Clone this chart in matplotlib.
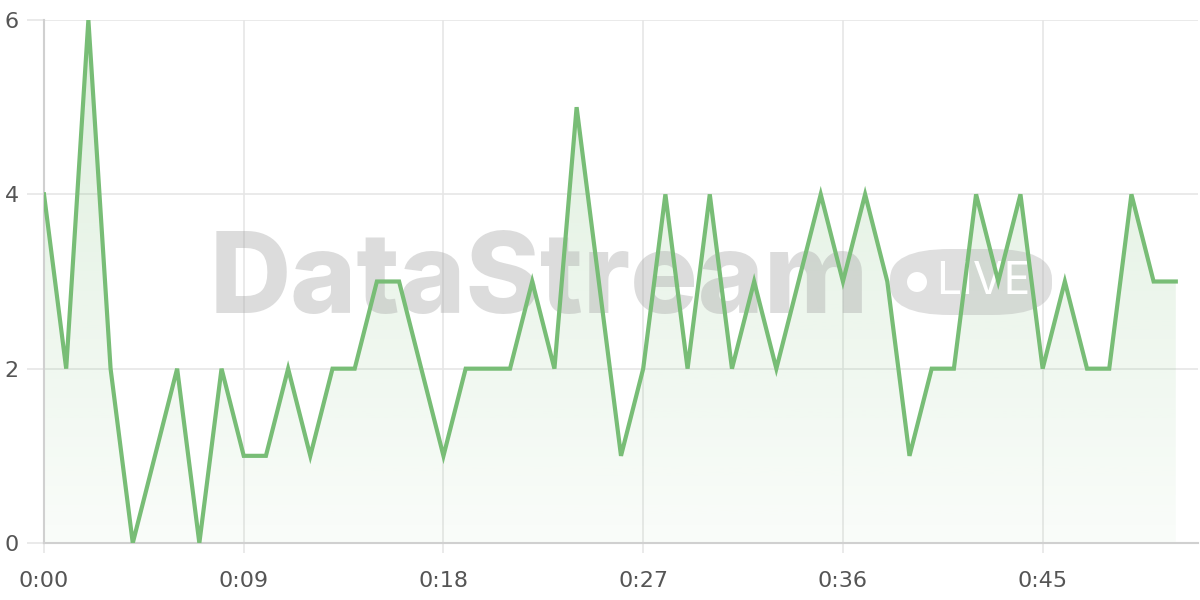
import numpy as np
import matplotlib
matplotlib.use("Agg")
import matplotlib.pyplot as plt
from matplotlib.patches import FancyBboxPatch, Circle

# seconds since start and value at each second
seconds = list(range(52))
values = [4, 2, 6, 2, 0, 1, 2, 0, 2, 1, 1, 2, 1, 2, 2, 3, 3, 2, 1, 2,
          2, 2, 3, 2, 5, 3, 1, 2, 4, 2, 4, 2, 3, 2, 3, 4, 3, 4, 3, 1,
          2, 2, 4, 3, 4, 2, 3, 2, 2, 4, 3, 3]
x_ticks = [0, 9, 18, 27, 36, 45]
x_labels = ["0:00", "0:09", "0:18", "0:27", "0:36", "0:45"]
y_ticks = [0, 2, 4, 6]

line_color = "#78bd76"
grid_color = "#e6e6e6"

fig = plt.figure(figsize=(12, 6), dpi=100)
ax = fig.add_axes([44 / 1200, 57 / 600, 1154 / 1200, 523 / 600])
ax.set_xlim(0, 52)
ax.set_ylim(0, 6)

# gradient fill under the line
poly = ax.fill_between(seconds, values, 0, color="none", lw=0)
grad = np.linspace(0.25, 0.04, 256).reshape(-1, 1)
rgba = np.zeros((256, 1, 4))
rgba[..., 0] = 0x78 / 255
rgba[..., 1] = 0xbd / 255
rgba[..., 2] = 0x76 / 255
rgba[..., 3] = grad
img = ax.imshow(rgba, extent=[0, seconds[-1], 0, 6], aspect="auto",
                origin="upper", zorder=1)
path = poly.get_paths()[0]
img.set_clip_path(path, transform=ax.transData)

ax.plot(seconds, values, color=line_color, lw=3, zorder=4,
        solid_joinstyle="miter")

# watermark
ax.text(210 / 1200, (600 - 313) / 600, "DataStream", transform=fig.transFigure,
        fontsize=81, fontweight="heavy", family="Inter", color="#a8a8a8",
        alpha=0.4, va="baseline", ha="left", zorder=3)
pill = FancyBboxPatch((890 / 1200, (600 - 315) / 600), 162 / 1200, 66 / 600,
                      boxstyle="round,pad=0,rounding_size=0.05",
                      transform=fig.transFigure, facecolor="#b0b0b0",
                      alpha=0.4, edgecolor="none", zorder=3)
ax.add_patch(pill)
ax.add_patch(Circle((917, 600 - 282), 10, transform=None,
                    facecolor="white", edgecolor="none", zorder=3))
ax.text(936 / 1200, (600 - 282) / 600, "LIVE", transform=fig.transFigure,
        fontsize=32, family="Inter", color="white", va="center",
        ha="left", zorder=3)

ax.set_xticks(x_ticks)
ax.set_xticklabels(x_labels)
ax.set_yticks(y_ticks)
ax.grid(True, color=grid_color, lw=1.2, zorder=0)
ax.set_axisbelow(True)
for s in ["top", "right"]:
    ax.spines[s].set_visible(False)
for s in ["left", "bottom"]:
    ax.spines[s].set_color("#d0d0d0")
    ax.spines[s].set_linewidth(1.5)
ax.tick_params(axis="x", length=7, width=1.2, color=grid_color,
               labelsize=16, labelcolor="#555555", pad=13)
ax.tick_params(axis="y", length=12, width=1.2, color=grid_color,
               labelsize=16, labelcolor="#555555", pad=6)
for lab in ax.get_xticklabels() + ax.get_yticklabels():
    lab.set_family("DejaVu Sans")

fig.savefig("out.png", dpi=100)
